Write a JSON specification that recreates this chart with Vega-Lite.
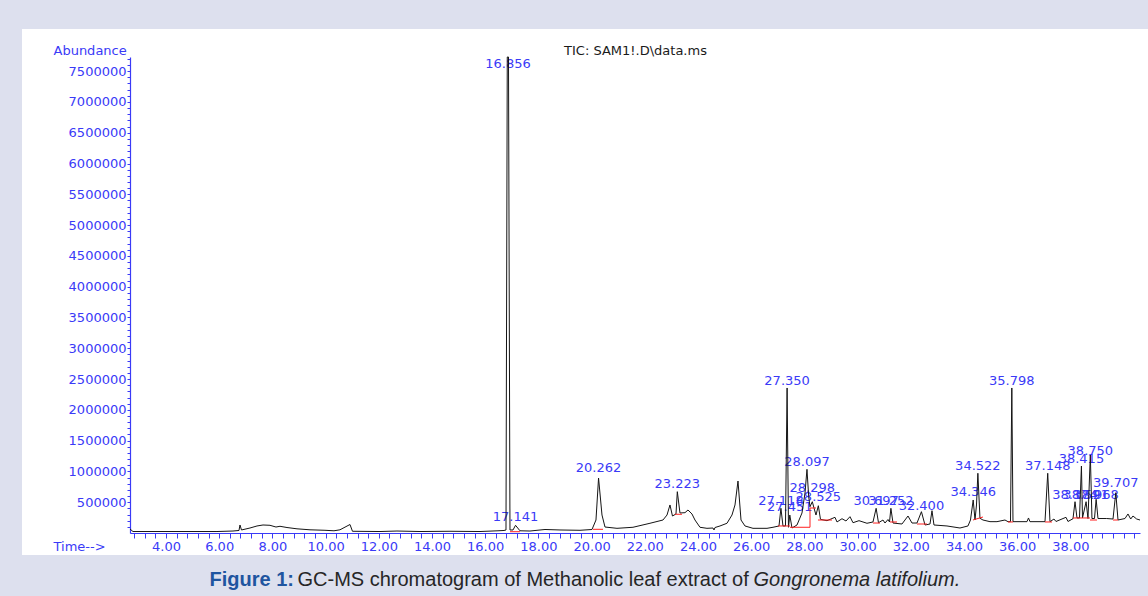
{
  "$schema": "https://vega.github.io/schema/vega-lite/v6.json",
  "width": 1126,
  "height": 526,
  "autosize": {"type": "none"},
  "padding": {"left": 22, "top": 29, "right": 0, "bottom": 41},
  "background": "#dde0ee",
  "config": {
    "view": {"fill": "white", "stroke": null},
    "axis": {"grid": false}
  },
  "datasets": {
    "trace": [
      {"t": 2.647, "a": 65000}, {"t": 2.759, "a": 24000}, {"t": 5.917, "a": 24000}, {"t": 6.519, "a": 32000},
      {"t": 6.744, "a": 41000}, {"t": 6.782, "a": 130000}, {"t": 6.838, "a": 49000}, {"t": 7.158, "a": 81000},
      {"t": 7.421, "a": 114000}, {"t": 7.647, "a": 130000}, {"t": 7.91, "a": 125000}, {"t": 8.135, "a": 97000},
      {"t": 8.286, "a": 109000}, {"t": 8.549, "a": 89000}, {"t": 8.925, "a": 68000}, {"t": 9.414, "a": 52000},
      {"t": 9.977, "a": 44000}, {"t": 10.316, "a": 36000}, {"t": 10.541, "a": 52000}, {"t": 10.917, "a": 138000},
      {"t": 11.011, "a": 28000}, {"t": 12.045, "a": 24000}, {"t": 12.684, "a": 32000}, {"t": 13.549, "a": 24000},
      {"t": 14.677, "a": 28000}, {"t": 15.805, "a": 24000}, {"t": 16.481, "a": 36000}, {"t": 16.707, "a": 41000},
      {"t": 16.782, "a": 49000}, {"t": 16.83, "a": 7730000}, {"t": 16.876, "a": 7730000}, {"t": 16.932, "a": 49000},
      {"t": 17.046, "a": 49000}, {"t": 17.141, "a": 125000}, {"t": 17.308, "a": 36000}, {"t": 17.684, "a": 32000},
      {"t": 18.248, "a": 57000}, {"t": 18.812, "a": 49000}, {"t": 19.564, "a": 44000}, {"t": 20.015, "a": 57000},
      {"t": 20.165, "a": 211000}, {"t": 20.262, "a": 893000}, {"t": 20.391, "a": 292000}, {"t": 20.504, "a": 97000},
      {"t": 20.955, "a": 76000}, {"t": 21.556, "a": 93000}, {"t": 22.195, "a": 158000}, {"t": 22.684, "a": 211000},
      {"t": 22.835, "a": 292000}, {"t": 22.947, "a": 455000}, {"t": 23.041, "a": 276000}, {"t": 23.173, "a": 309000},
      {"t": 23.223, "a": 671000}, {"t": 23.323, "a": 325000}, {"t": 23.511, "a": 330000}, {"t": 23.624, "a": 374000},
      {"t": 23.774, "a": 309000}, {"t": 23.887, "a": 211000}, {"t": 24.075, "a": 93000}, {"t": 24.338, "a": 76000},
      {"t": 24.564, "a": 81000}, {"t": 24.602, "a": 49000}, {"t": 24.639, "a": 89000}, {"t": 24.827, "a": 114000},
      {"t": 25.09, "a": 158000}, {"t": 25.278, "a": 292000}, {"t": 25.391, "a": 455000}, {"t": 25.504, "a": 844000},
      {"t": 25.617, "a": 211000}, {"t": 25.767, "a": 114000}, {"t": 26.068, "a": 76000}, {"t": 26.594, "a": 76000},
      {"t": 26.82, "a": 93000}, {"t": 27.045, "a": 114000}, {"t": 27.118, "a": 401000}, {"t": 27.195, "a": 114000},
      {"t": 27.289, "a": 114000}, {"t": 27.35, "a": 2355000}, {"t": 27.402, "a": 93000}, {"t": 27.451, "a": 292000},
      {"t": 27.534, "a": 81000}, {"t": 27.722, "a": 130000}, {"t": 27.91, "a": 325000}, {"t": 28.023, "a": 650000},
      {"t": 28.097, "a": 1034000}, {"t": 28.162, "a": 590000}, {"t": 28.211, "a": 427000}, {"t": 28.298, "a": 508000},
      {"t": 28.361, "a": 406000}, {"t": 28.436, "a": 292000}, {"t": 28.525, "a": 443000}, {"t": 28.605, "a": 222000},
      {"t": 28.85, "a": 200000}, {"t": 29.15, "a": 255000}, {"t": 29.226, "a": 179000}, {"t": 29.414, "a": 232000},
      {"t": 29.564, "a": 195000}, {"t": 29.714, "a": 265000}, {"t": 29.827, "a": 167000}, {"t": 30.053, "a": 200000},
      {"t": 30.353, "a": 158000}, {"t": 30.579, "a": 179000}, {"t": 30.697, "a": 401000}, {"t": 30.786, "a": 167000},
      {"t": 30.955, "a": 211000}, {"t": 31.03, "a": 162000}, {"t": 31.143, "a": 219000}, {"t": 31.2, "a": 179000},
      {"t": 31.252, "a": 401000}, {"t": 31.331, "a": 162000}, {"t": 31.669, "a": 146000}, {"t": 31.895, "a": 276000},
      {"t": 32.045, "a": 162000}, {"t": 32.233, "a": 162000}, {"t": 32.4, "a": 346000}, {"t": 32.534, "a": 130000},
      {"t": 32.722, "a": 146000}, {"t": 32.797, "a": 362000}, {"t": 32.872, "a": 130000}, {"t": 33.361, "a": 114000},
      {"t": 33.85, "a": 81000}, {"t": 34.15, "a": 114000}, {"t": 34.244, "a": 211000}, {"t": 34.346, "a": 536000},
      {"t": 34.414, "a": 211000}, {"t": 34.47, "a": 455000}, {"t": 34.522, "a": 970000}, {"t": 34.601, "a": 239000},
      {"t": 34.714, "a": 211000}, {"t": 34.977, "a": 184000}, {"t": 35.24, "a": 184000}, {"t": 35.541, "a": 211000},
      {"t": 35.654, "a": 184000}, {"t": 35.748, "a": 184000}, {"t": 35.798, "a": 2355000}, {"t": 35.842, "a": 184000},
      {"t": 36.368, "a": 184000}, {"t": 36.425, "a": 244000}, {"t": 36.481, "a": 184000}, {"t": 37.045, "a": 184000},
      {"t": 37.148, "a": 970000}, {"t": 37.233, "a": 184000}, {"t": 37.383, "a": 227000}, {"t": 37.459, "a": 187000},
      {"t": 37.835, "a": 255000}, {"t": 37.91, "a": 187000}, {"t": 38.098, "a": 232000}, {"t": 38.174, "a": 508000},
      {"t": 38.248, "a": 244000}, {"t": 38.342, "a": 244000}, {"t": 38.415, "a": 1088000}, {"t": 38.455, "a": 244000},
      {"t": 38.591, "a": 508000}, {"t": 38.662, "a": 235000}, {"t": 38.75, "a": 1267000}, {"t": 38.811, "a": 235000},
      {"t": 38.906, "a": 235000}, {"t": 38.968, "a": 547000}, {"t": 39.038, "a": 235000}, {"t": 39.365, "a": 235000},
      {"t": 39.602, "a": 227000}, {"t": 39.707, "a": 654000}, {"t": 39.79, "a": 211000}, {"t": 40.053, "a": 235000},
      {"t": 40.165, "a": 309000}, {"t": 40.267, "a": 227000}, {"t": 40.353, "a": 276000}, {"t": 40.492, "a": 227000},
      {"t": 40.617, "a": 211000}
    ],
    "baselines": [
      {"t1": 16.932, "a1": 21000, "t2": 17.308, "a2": 21000},
      {"t1": 20.053, "a1": 60000, "t2": 20.429, "a2": 60000},
      {"t1": 23.135, "a1": 304000, "t2": 23.398, "a2": 304000},
      {"t1": 27.008, "a1": 114000, "t2": 27.459, "a2": 114000},
      {"t1": 27.459, "a1": 93000, "t2": 28.211, "a2": 93000},
      {"t1": 28.211, "a1": 93000, "t2": 28.211, "a2": 406000},
      {"t1": 28.211, "a1": 406000, "t2": 28.436, "a2": 406000},
      {"t1": 28.511, "a1": 211000, "t2": 29.038, "a2": 211000},
      {"t1": 30.579, "a1": 162000, "t2": 30.842, "a2": 162000},
      {"t1": 31.218, "a1": 179000, "t2": 31.481, "a2": 179000},
      {"t1": 32.233, "a1": 146000, "t2": 32.609, "a2": 146000},
      {"t1": 34.338, "a1": 211000, "t2": 34.714, "a2": 260000},
      {"t1": 35.654, "a1": 179000, "t2": 35.842, "a2": 179000},
      {"t1": 37.045, "a1": 179000, "t2": 37.308, "a2": 179000},
      {"t1": 38.098, "a1": 244000, "t2": 38.737, "a2": 244000},
      {"t1": 38.737, "a1": 211000, "t2": 39.0, "a2": 211000},
      {"t1": 39.602, "a1": 211000, "t2": 39.79, "a2": 211000}
    ],
    "peaks": [
      {"rt": 16.856, "a": 7503000, "label": "16.856"},
      {"rt": 17.141, "a": 146000, "label": "17.141"},
      {"rt": 20.262, "a": 942000, "label": "20.262"},
      {"rt": 23.223, "a": 682000, "label": "23.223"},
      {"rt": 27.118, "a": 406000, "label": "27.118"},
      {"rt": 27.35, "a": 2355000, "label": "27.350"},
      {"rt": 27.451, "a": 309000, "label": "27.451"},
      {"rt": 28.097, "a": 1039000, "label": "28.097"},
      {"rt": 28.298, "a": 617000, "label": "28.298"},
      {"rt": 28.525, "a": 471000, "label": "28.525"},
      {"rt": 30.697, "a": 406000, "label": "30.697"},
      {"rt": 31.252, "a": 406000, "label": "31.252"},
      {"rt": 32.4, "a": 325000, "label": "32.400"},
      {"rt": 34.346, "a": 552000, "label": "34.346"},
      {"rt": 34.522, "a": 974000, "label": "34.522"},
      {"rt": 35.798, "a": 2355000, "label": "35.798"},
      {"rt": 37.148, "a": 974000, "label": "37.148"},
      {"rt": 38.174, "a": 503000, "label": "38.174"},
      {"rt": 38.415, "a": 1088000, "label": "38.415"},
      {"rt": 38.591, "a": 503000, "label": "38.591"},
      {"rt": 38.75, "a": 1218000, "label": "38.750"},
      {"rt": 38.968, "a": 503000, "label": "38.968"},
      {"rt": 39.707, "a": 698000, "label": "39.707"}
    ]
  },
  "layer": [
    {
      "data": {"name": "peaks"},
      "mark": {"type": "text", "baseline": "middle", "align": "center", "dy": -7, "font": "DejaVu Sans", "fontSize": 13, "color": "#3a3af7"},
      "encoding": {
        "x": {"field": "rt", "type": "quantitative",
              "scale": {"domain": [2.647, 40.617], "range": [108, 1118], "nice": false, "zero": false},
              "axis": {"orient": "bottom", "offset": 0, "domain": false, "ticks": false, "labels": false,
                       "title": "GC-MS chromatogram of Methanolic leaf extract of",
                       "titleX": 275, "titleY": 30, "titleAngle": 0, "titleAlign": "left", "titleBaseline": "alphabetic",
                       "titleFont": "Liberation Sans", "titleFontSize": 20, "titleFontWeight": "normal", "titleColor": "#262626"}},
        "y": {"field": "a", "type": "quantitative",
              "scale": {"domain": [0, 7730000], "range": [504, 28], "nice": false, "zero": false},
              "axis": {"orient": "left", "offset": 0, "domain": false, "ticks": false, "labels": false,
                       "title": "Gongronema latifolium.",
                       "titleX": 731, "titleY": 556, "titleAngle": 0, "titleAlign": "left", "titleBaseline": "alphabetic",
                       "titleFont": "Liberation Sans", "titleFontSize": 20, "titleFontWeight": "normal", "titleFontStyle": "italic", "titleColor": "#262626"}},
        "text": {"field": "label", "type": "nominal"}
      }
    },
    {
      "data": {"name": "trace"},
      "mark": {"type": "line", "color": "#151515", "strokeWidth": 1, "interpolate": "linear"},
      "encoding": {
        "x": {"field": "t", "type": "quantitative",
              "scale": {"domain": [2.647, 40.617], "range": [108, 1118], "nice": false, "zero": false},
              "axis": {"orient": "bottom", "offset": -22,
                       "values": [2.8,3.2,3.6,4,4.4,4.8,5.2,5.6,6,6.4,6.8,7.2,7.6,8,8.4,8.8,9.2,9.6,10,10.4,10.8,11.2,11.6,12,12.4,12.8,13.2,13.6,14,14.4,14.8,15.2,15.6,16,16.4,16.8,17.2,17.6,18,18.4,18.8,19.2,19.6,20,20.4,20.8,21.2,21.6,22,22.4,22.8,23.2,23.6,24,24.4,24.8,25.2,25.6,26,26.4,26.8,27.2,27.6,28,28.4,28.8,29.2,29.6,30,30.4,30.8,31.2,31.6,32,32.4,32.8,33.2,33.6,34,34.4,34.8,35.2,35.6,36,36.4,36.8,37.2,37.6,38,38.4,38.8,39.2,39.6,40,40.4],
                       "labelExpr": "(datum.value % 2 == 0 && datum.value <= 38) ? format(datum.value, '.2f') : ''",
                       "labelOverlap": false, "labelFlush": false,
                       "labelFont": "DejaVu Sans", "labelFontSize": 13, "labelColor": "#3a3af7", "labelPadding": 2,
                       "tickSize": 5, "tickColor": "#3a3af7", "tickWidth": 1,
                       "domainColor": "#3a3af7", "domainWidth": 1,
                       "title": "Time-->", "titleX": 31, "titleY": 17, "titleAngle": 0, "titleAlign": "left", "titleBaseline": "alphabetic",
                       "titleFont": "DejaVu Sans", "titleFontSize": 13, "titleFontWeight": "normal", "titleColor": "#3a3af7"}},
        "y": {"field": "a", "type": "quantitative",
              "scale": {"domain": [0, 7730000], "range": [504, 28], "nice": false, "zero": false},
              "axis": {"orient": "left", "offset": -108,
                       "values": [100000,200000,300000,400000,500000,600000,700000,800000,900000,1000000,1100000,1200000,1300000,1400000,1500000,1600000,1700000,1800000,1900000,2000000,2100000,2200000,2300000,2400000,2500000,2600000,2700000,2800000,2900000,3000000,3100000,3200000,3300000,3400000,3500000,3600000,3700000,3800000,3900000,4000000,4100000,4200000,4300000,4400000,4500000,4600000,4700000,4800000,4900000,5000000,5100000,5200000,5300000,5400000,5500000,5600000,5700000,5800000,5900000,6000000,6100000,6200000,6300000,6400000,6500000,6600000,6700000,6800000,6900000,7000000,7100000,7200000,7300000,7400000,7500000,7600000,7700000],
                       "labelExpr": "datum.value % 500000 == 0 ? format(datum.value, 'd') : ''",
                       "labelOverlap": false, "labelFlush": false,
                       "labelFont": "DejaVu Sans", "labelFontSize": 13, "labelColor": "#3a3af7", "labelPadding": 1,
                       "tickSize": 3, "tickColor": "#3a3af7", "tickWidth": 1,
                       "domainColor": "#3a3af7", "domainWidth": 1.2,
                       "title": "Abundance", "titleX": -77, "titleY": 25, "titleAngle": 0, "titleAlign": "left", "titleBaseline": "alphabetic",
                       "titleFont": "DejaVu Sans", "titleFontSize": 13, "titleFontWeight": "normal", "titleColor": "#3a3af7"}}
      }
    },
    {
      "data": {"name": "baselines"},
      "mark": {"type": "rule", "color": "#ff1f1f", "strokeWidth": 1},
      "encoding": {
        "x": {"field": "t1", "type": "quantitative",
              "scale": {"domain": [2.647, 40.617], "range": [108, 1118], "nice": false, "zero": false},
              "axis": {"orient": "top", "offset": 0, "domain": false, "ticks": false, "labels": false,
                       "title": "TIC: SAM1!.D\\data.ms",
                       "titleX": 613, "titleY": 25, "titleAngle": 0, "titleAlign": "center", "titleBaseline": "alphabetic",
                       "titleFont": "DejaVu Sans", "titleFontSize": 13, "titleFontWeight": "normal", "titleColor": "#1a1a1a"}},
        "x2": {"field": "t2"},
        "y": {"field": "a1", "type": "quantitative",
              "scale": {"domain": [0, 7730000], "range": [504, 28], "nice": false, "zero": false},
              "axis": {"orient": "left", "offset": 0, "domain": false, "ticks": false, "labels": false,
                       "title": "Figure 1:",
                       "titleX": 187, "titleY": 556, "titleAngle": 0, "titleAlign": "left", "titleBaseline": "alphabetic",
                       "titleFont": "Liberation Sans", "titleFontSize": 20, "titleFontWeight": "bold", "titleColor": "#1f55a0"}},
        "y2": {"field": "a2"}
      }
    }
  ],
  "resolve": {"axis": {"x": "independent", "y": "independent"}}
}
